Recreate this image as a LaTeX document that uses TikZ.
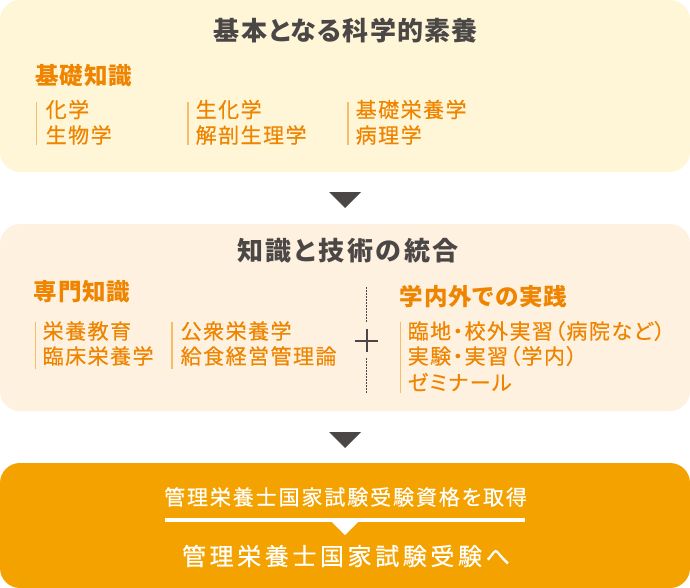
\documentclass[tikz,border=0pt]{standalone}
\usepackage{fontspec}
\newfontfamily\jpA[RawFeature=+palt,LetterSpace=5]{Noto Sans CJK JP}
\newfontfamily\jpB[RawFeature=+palt,LetterSpace=10]{Noto Sans CJK JP}
\newfontfamily\jpH[RawFeature=+palt,LetterSpace=4]{Noto Sans CJK JP}
\newfontfamily\jpT[RawFeature=+palt,LetterSpace=7,FakeBold=0.4]{Noto Sans CJK JP}
\newfontfamily\jpW[RawFeature=+palt,LetterSpace=9,FakeBold=0.4]{Noto Sans CJK JP}
\newfontfamily\jpV[RawFeature=+palt,LetterSpace=15,FakeBold=0.5]{Noto Sans CJK JP}
\definecolor{boxA}{HTML}{FFF6D8}
\definecolor{boxB}{HTML}{FEF1DF}
\definecolor{boxC}{HTML}{F4A200}
\definecolor{orng}{HTML}{EE8400}
\definecolor{barc}{HTML}{F6BC6A}
\definecolor{dgray}{HTML}{4B4746}
\tikzset{
  panel/.style={rounded corners=20pt, draw=none},
  ttl/.style={inner sep=0pt, text=dgray, font=\jpA\fontsize{26}{26}\selectfont\bfseries},
  head/.style={inner sep=0pt, anchor=west, text=orng, font=\jpH\fontsize{23.5}{23.5}\selectfont\bfseries},
  item/.style={inner sep=0pt, anchor=west, text=orng, font=\jpT\fontsize{21}{21}\selectfont},
  bar/.style={draw=barc, line width=1.2pt},
  arrowtri/.style={fill=dgray, draw=none},
  wtxt/.style={inner sep=0pt, text=white},
}
\begin{document}
\begin{tikzpicture}[x=1pt,y=-1pt]
\useasboundingbox (0,0) rectangle (690,588);
% panels
\fill[boxA, panel] (0,0) rectangle (690,172);
\fill[boxB, panel] (0,224) rectangle (690,411);
\fill[boxC, panel] (0,463) rectangle (690,588);
% panel 1
\node[ttl] (t1) at (346,31) {基本となる科学的素養};
\node[head] (h1) at (35,75.5) {基礎知識};
\draw[bar] (36.5,102) coordinate (b1a) -- (36.5,145) coordinate (b1b);
\draw[bar] (188,102) coordinate (b2a) -- (188,145) coordinate (b2b);
\draw[bar] (348,102) coordinate (b3a) -- (348,145) coordinate (b3b);
\node[item] (i11) at (45.5,109.5) {化学};
\node[item] (i12) at (45.5,135) {生物学};
\node[item] (i21) at (195.5,109.5) {生化学};
\node[item] (i22) at (195.5,135) {解剖生理学};
\node[item] (i31) at (355.5,109.5) {基礎栄養学};
\node[item] (i32) at (355.5,135) {病理学};
% arrow 1
\fill[arrowtri] (329,192) coordinate (a1l) -- (361,192) coordinate (a1r) -- (345,208) coordinate (a1t) -- cycle;
% panel 2
\node[ttl, font=\jpB\fontsize{26}{26}\selectfont\bfseries] (t2) at (348,251) {知識と技術の統合};
\node[head] (h2) at (33.5,292) {専門知識};
\draw[bar] (35.5,322) coordinate (c1a) -- (35.5,369) coordinate (c1b);
\draw[bar] (172,322) coordinate (c2a) -- (172,369) coordinate (c2b);
\node[item] (j11) at (42.5,331) {栄養教育};
\node[item] (j12) at (42.5,356) {臨床栄養学};
\node[item] (j21) at (180.5,331) {公衆栄養学};
\node[item] (j22) at (180.5,356) {給食経営管理論};
\draw[dgray, line width=0.8pt, dash pattern=on 1.5pt off 1.5pt] (366,287) coordinate (d1a) -- (366,323) coordinate (d1b);
\draw[dgray, line width=0.8pt, dash pattern=on 1.5pt off 1.5pt] (366,358) coordinate (d2a) -- (366,393) coordinate (d2b);
\coordinate (plus) at (366.5,340.5);
\draw[dgray, line width=2pt] ([xshift=-11.5pt]plus) -- ([xshift=11.5pt]plus);
\draw[dgray, line width=2pt] ([yshift=-11.5pt]plus) -- ([yshift=11.5pt]plus);
\node[head] (h3) at (399.5,297) {学内外での実践};
\draw[bar] (400.5,322) coordinate (e1a) -- (400.5,393) coordinate (e1b);
\node[item] (k1) at (407.5,331) {臨地・校外実習（病院など）};
\node[item] (k2) at (407.5,356) {実験・実習（学内）};
\node[item] (k3) at (407.5,382) {ゼミナール};
% arrow 2
\fill[arrowtri] (329,432) coordinate (a2l) -- (361,432) coordinate (a2r) -- (345,448) coordinate (a2t) -- cycle;
% panel 3
\node[wtxt, font=\jpW\fontsize{21}{21}\selectfont] (w1) at (345.5,497) {管理栄養士国家試験受験資格を取得};
\fill[white] (165,518) rectangle (525,522);
\fill[white] (331,521) coordinate (a3l) -- (359,521) coordinate (a3r) -- (345,535) coordinate (a3t) -- cycle;
\node[wtxt, font=\jpV\fontsize{24}{24}\selectfont] (w2) at (346,556) {管理栄養士国家試験受験へ};
\end{tikzpicture}
\end{document}
